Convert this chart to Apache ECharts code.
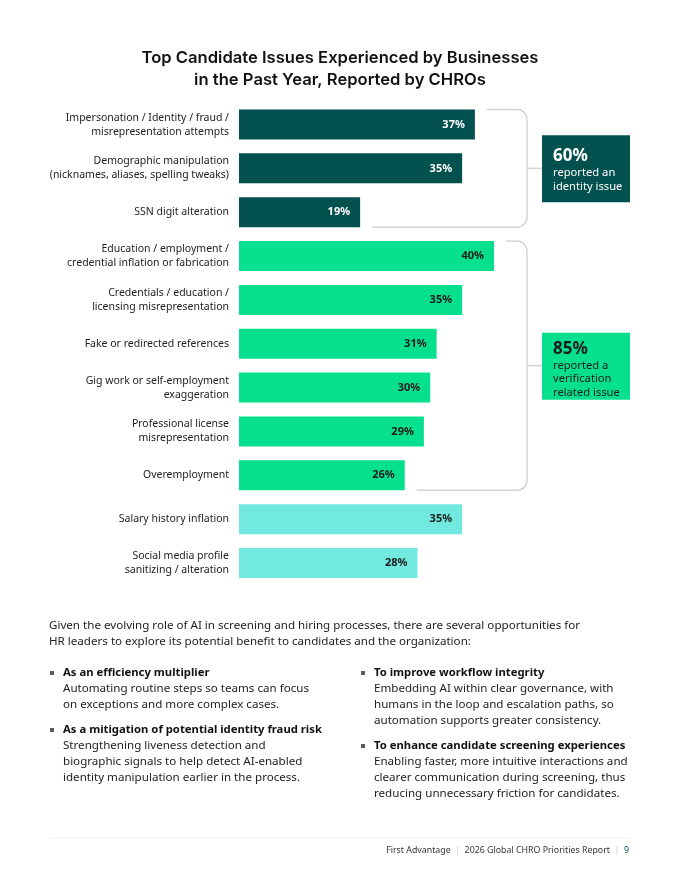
<!DOCTYPE html>
<html>
<head>
<meta charset="utf-8">
<script src="https://cdn.jsdelivr.net/npm/echarts@6/dist/echarts.min.js"></script>
<style>
  html, body { margin: 0; padding: 0; background: #fff; }
  #chart { width: 680px; height: 880px; }
</style>
</head>
<body>
<div id="chart"></div>
<script>
const categories = [
  'Impersonation / Identity / fraud /\nmisrepresentation attempts',
  'Demographic manipulation\n(nicknames, aliases, spelling tweaks)',
  'SSN digit alteration',
  'Education / employment /\ncredential inflation or fabrication',
  'Credentials / education /\nlicensing misrepresentation',
  'Fake or redirected references',
  'Gig work or self-employment\nexaggeration',
  'Professional license\nmisrepresentation',
  'Overemployment',
  'Salary history inflation',
  'Social media profile\nsanitizing / alteration'
];
const values = [37, 35, 19, 40, 35, 31, 30, 29, 26, 35, 28];
const groups = [0, 0, 0, 1, 1, 1, 1, 1, 1, 2, 2];
const groupColors = ['#02514f', '#06e08e', '#72e9df'];
const labelColors = ['#ffffff', '#1b1b1b', '#1b1b1b'];

// brackets: first and last bar of each group
const bracketRanges = [[0, 2], [3, 8]];
const calloutValues = ['60%', '85%'];
const calloutTexts = ['reported an\nidentity issue', 'reported a\nverification\nrelated issue'];

const introText = 'Given the evolving role of AI in screening and hiring processes, there are several opportunities for\nHR leaders to explore its potential benefit to candidates and the organization:';
const bulletTitles = [
  'As an efficiency multiplier',
  'As a mitigation of potential identity fraud risk',
  'To improve workflow integrity',
  'To enhance candidate screening experiences'
];
const bulletBodies = [
  'Automating routine steps so teams can focus\non exceptions and more complex cases.',
  'Strengthening liveness detection and\nbiographic signals to help detect AI-enabled\nidentity manipulation earlier in the process.',
  'Embedding AI within clear governance, with\nhumans in the loop and escalation paths, so\nautomation supports greater consistency.',
  'Enabling faster, more intuitive interactions and\nclearer communication during screening, thus\nreducing unnecessary friction for candidates.'
];

const bodyFont = '"Noto Sans", sans-serif';
const chart = echarts.init(document.getElementById('chart'));

const barData = values.map(function (v, i) {
  return {
    value: v,
    itemStyle: { color: groupColors[groups[i]] },
    label: { color: labelColors[groups[i]] }
  };
});

const option = {
  animation: false,
  title: {
    text: 'Top Candidate Issues Experienced by Businesses\nin the Past Year, Reported by CHROs',
    left: 'center',
    top: 42,
    textStyle: {
      fontFamily: 'Inter',
      fontWeight: 600,
      fontSize: 16.6,
      lineHeight: 22,
      color: '#111'
    }
  },
  grid: { left: 239, top: 102.6, height: 482.3, width: 318.75 },
  xAxis: { type: 'value', min: 0, max: 50, show: false },
  yAxis: {
    type: 'category',
    inverse: true,
    data: categories,
    axisLine: { show: false },
    axisTick: { show: false },
    axisLabel: {
      margin: 10,
      fontFamily: bodyFont,
      fontSize: 10.5,
      lineHeight: 14,
      color: '#222'
    }
  },
  series: [{
    type: 'bar',
    barWidth: 30,
    data: barData,
    label: {
      show: true,
      position: 'insideRight',
      distance: 10,
      formatter: '{c}%',
      fontFamily: bodyFont,
      fontWeight: 'bold',
      fontSize: 11
    }
  }]
};
chart.setOption(option);

// brackets + callouts, placed from the bar positions
const graphics = [];
const bracketX = 527;
const boxX = 542, boxW = 88, boxH = 67, r = 10, half = 15;
const lineStyle = { stroke: '#d4d4d4', lineWidth: 1.5, fill: null };
bracketRanges.forEach(function (rg, g) {
  const pTop = chart.convertToPixel({ seriesIndex: 0 }, [values[rg[0]], rg[0]]);
  const pBot = chart.convertToPixel({ seriesIndex: 0 }, [values[rg[1]], rg[1]]);
  const top = pTop[1] - half, bot = pBot[1] + half, mid = (top + bot) / 2;
  const x1 = pTop[0] + 12, x2 = pBot[0] + 12;
  graphics.push(
    { type: 'line', shape: { x1: x1, y1: top, x2: bracketX - r, y2: top }, style: lineStyle },
    { type: 'arc', shape: { cx: bracketX - r, cy: top + r, r: r, startAngle: -Math.PI / 2, endAngle: 0 }, style: lineStyle },
    { type: 'line', shape: { x1: bracketX, y1: top + r, x2: bracketX, y2: bot - r }, style: lineStyle },
    { type: 'arc', shape: { cx: bracketX - r, cy: bot - r, r: r, startAngle: 0, endAngle: Math.PI / 2 }, style: lineStyle },
    { type: 'line', shape: { x1: bracketX - r, y1: bot, x2: x2, y2: bot }, style: lineStyle },
    { type: 'line', shape: { x1: bracketX, y1: mid, x2: boxX, y2: mid }, style: lineStyle }
  );
  const boxTop = mid - boxH / 2 + 0.5;
  graphics.push({
    type: 'rect',
    shape: { x: boxX, y: boxTop, width: boxW, height: boxH },
    style: { fill: groupColors[g] }
  });
  const txtColor = labelColors[g];
  const startY = g === 0 ? boxTop + 21 : boxTop + 16;
  graphics.push({
    type: 'text',
    x: boxX + 11, y: startY,
    style: {
      text: calloutValues[g], font: 'bold 17px ' + bodyFont,
      fill: txtColor, textVerticalAlign: 'middle'
    }
  });
  graphics.push({
    type: 'text',
    x: boxX + 11, y: startY + 10,
    style: {
      text: calloutTexts[g], font: '11.2px ' + bodyFont, lineHeight: 13.5,
      fill: txtColor, textVerticalAlign: 'top'
    }
  });
});

// intro paragraph and bullets
graphics.push({
  type: 'text', x: 49, y: 618,
  style: { text: introText, font: '11.6px ' + bodyFont, lineHeight: 16, fill: '#222' }
});
const bulletPos = [[49, 673], [49, 730], [360, 673], [360, 746]];
bulletTitles.forEach(function (t, i) {
  const bx = bulletPos[i][0], by = bulletPos[i][1];
  graphics.push({
    type: 'rect', shape: { x: bx + 1, y: by - 2, width: 4, height: 4 },
    style: { fill: '#5a5a5a' }
  });
  graphics.push({
    type: 'text', x: bx + 14, y: by - 8,
    style: { text: t, font: 'bold 11.3px ' + bodyFont, lineHeight: 16, fill: '#111' }
  });
  graphics.push({
    type: 'text', x: bx + 14, y: by + 8,
    style: { text: bulletBodies[i], font: '11.6px ' + bodyFont, lineHeight: 16, fill: '#222' }
  });
});

// footer
graphics.push({
  type: 'line', shape: { x1: 49, y1: 838, x2: 631, y2: 838 },
  style: { stroke: '#f0f0f0', lineWidth: 1 }
});
graphics.push({
  type: 'text', x: 629, y: 850,
  style: {
    text: '{a|First Advantage}{s|  |  }{a|2026 Global CHRO Priorities Report}{s|  |  }{n|9}',
    textAlign: 'right', textVerticalAlign: 'middle',
    rich: {
      a: { font: '8.8px ' + bodyFont, fill: '#333' },
      s: { font: '8.8px ' + bodyFont, fill: '#c8c8c8' },
      n: { font: '8.8px ' + bodyFont, fill: '#02514f' }
    }
  }
});

chart.setOption({ graphic: graphics });
window.addEventListener('resize', function () {
  chart.resize();
});
</script>
</body>
</html>
